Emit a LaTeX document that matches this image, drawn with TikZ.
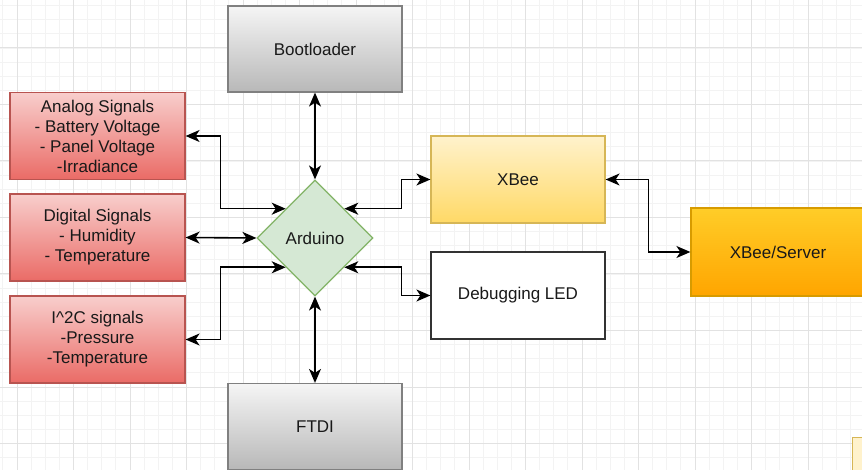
\documentclass[tikz,border=0pt]{standalone}
\usepackage{fontspec}
\setmainfont{Liberation Sans}
\usetikzlibrary{shapes.geometric, arrows.meta}

\definecolor{gridminor}{HTML}{F3F3F3}
\definecolor{gridmajor}{HTML}{E2E2E2}
\definecolor{greytop}{HTML}{F5F5F5}
\definecolor{greybot}{HTML}{B8B8B8}
\definecolor{greyline}{HTML}{808080}
\definecolor{redtop}{HTML}{F8CECC}
\definecolor{redbot}{HTML}{EA6B66}
\definecolor{redline}{HTML}{B85450}
\definecolor{greenfill}{HTML}{D5E8D4}
\definecolor{greenline}{HTML}{82B366}
\definecolor{yeltop}{HTML}{FFF2CC}
\definecolor{yelbot}{HTML}{FFD966}
\definecolor{yelline}{HTML}{D6B656}
\definecolor{ortop}{HTML}{FFCD28}
\definecolor{orbot}{HTML}{FFA500}
\definecolor{orline}{HTML}{D79B00}

\tikzset{
  block/.style={rectangle, minimum width=174pt, minimum height=87pt, inner sep=0pt,
    align=center, line width=1.2pt, font=\fontsize{17}{20}\selectfont, text=black!90},
  greybox/.style={block, draw=greyline, top color=greytop, bottom color=greybot},
  sensorbox/.style={block, minimum width=175pt, draw=redline, top color=redtop, bottom color=redbot},
  radiobox/.style={block, draw=yelline, top color=yeltop, bottom color=yelbot},
  serverbox/.style={block, minimum height=88pt, draw=orline, top color=ortop, bottom color=orbot},
  plainbox/.style={block, draw=black!80, fill=white},
  link/.style={{Stealth[length=14pt,width=12pt,inset=4pt]}-{Stealth[length=14pt,width=12pt,inset=4pt]},
    line width=1.6pt, black}
}

\begin{document}
\begin{tikzpicture}[x=1pt, y=-1pt]

\useasboundingbox (0,0) rectangle (862,470);
\fill[white] (0,0) rectangle (862,470);

% Background grid
\foreach \k in {-1,...,60} {
	\draw[gridminor, line width=0.8pt] ({17+14.125*\k},0) -- ++(0,470);
}
\foreach \k in {1,...,34} {
	\draw[gridminor, line width=0.8pt] (0,{-8.5+14.125*\k}) -- ++(862,0);
}
\foreach \k in {0,...,15} {
	\draw[gridmajor, line width=1pt] ({17+56.5*\k},0) -- ++(0,470);
}
\foreach \k in {1,...,8} {
	\draw[gridmajor, line width=1pt] (0,{-8.5+56.5*\k}) -- ++(862,0);
}

% Centre
\node[diamond, aspect=1, minimum width=116pt, minimum height=116pt, inner sep=0pt,
  draw=greenline, fill=greenfill, line width=1.2pt, font=\fontsize{17}{20}\selectfont,
  text=black!90] (ardu) at (315,238) {Arduino};

% Top and bottom
\node[greybox, minimum height=86pt] (boot) at (315,49) {Bootloader};
\node[greybox, minimum height=86pt] (ftdi) at (315,426.5) {FTDI};

% Sensor inputs
\node[sensorbox] (analog) at (97.5,136) {Analog Signals\\- Battery Voltage\\- Panel Voltage\\-Irradiance};
\node[sensorbox] (digital) at (97.5,237.5) {Digital Signals\\- Humidity\\- Temperature};
\node[sensorbox] (i2c) at (97.5,339.5) {I\^{}2C signals\\-Pressure\\-Temperature};

% Outputs
\node[radiobox] (xbee) at (518,179.5) {XBee};
\node[plainbox] (led) at (518,295.5) {Debugging LED};
\node[serverbox] (server) at (778,252) {XBee/Server};
\node[rectangle, minimum width=40pt, minimum height=40pt, draw=yelline, fill=yeltop,
  line width=1pt, anchor=north west] (extra) at (852,437) {};

% Connections
\draw[link] (boot.south) -- (ardu.north);
\draw[link] (ftdi.north) -- (ardu.south);
\draw[link] (analog.east) -- ++(35,0) |- (ardu.north west);
\draw[link] (digital.east) -- (ardu.west);
\draw[link] (i2c.east) -- ++(35,0) |- (ardu.south west);
\draw[link] (ardu.north east) -- ++(57,0) |- (xbee.west);
\draw[link] (ardu.south east) -- ++(57,0) |- (led.west);
\draw[link] (xbee.east) -- ++(43,0) |- (server.west);

\end{tikzpicture}
\end{document}
